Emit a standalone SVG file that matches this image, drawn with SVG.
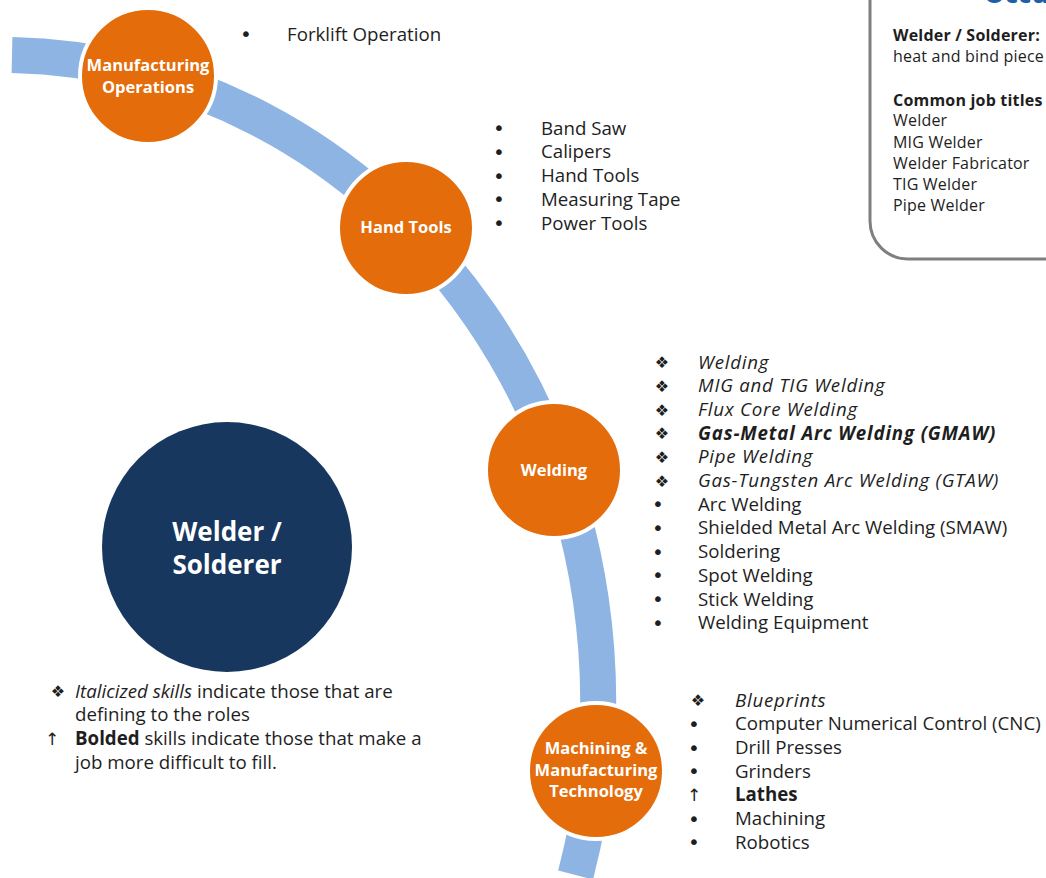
<svg xmlns="http://www.w3.org/2000/svg" width="1046" height="878" viewBox="0 0 1046 878">
  <style>
    .lbl { font-family: "Open Sans", "Noto Sans", sans-serif; font-weight: 700; fill: #ffffff; text-anchor: middle; }
    .item { font-family: "Open Sans", "Noto Sans", sans-serif; font-size: 18.7px; fill: #1e1e1e; }
    .bul { font-family: "DejaVu Sans", sans-serif; font-size: 20px; fill: #1e1e1e; text-anchor: middle; }
    .dia { font-family: "DejaVu Sans", sans-serif; font-size: 16px; fill: #1e1e1e; text-anchor: middle; }
    .arr { font-family: "DejaVu Sans", sans-serif; font-size: 17px; fill: #1e1e1e; text-anchor: middle; }
    .box { font-family: "Open Sans", "Noto Sans", sans-serif; font-size: 16px; letter-spacing: 0.2px; fill: #1e1e1e; }
    .node { fill: #e46c0a; stroke: #ffffff; stroke-width: 4; }
    .it { font-style: italic; letter-spacing: 0.75px; }
    .itk { font-style: italic; }
    .b { font-weight: 700; }
  </style>

  <rect width="1046" height="878" fill="#ffffff"/>

  <!-- sweeping band that links the skill groups -->
  <g id="connectors">
    <path d="M 12 55 A 598 645 0 0 1 575.6 875" fill="none" stroke="#8eb4e3" stroke-width="36"/>
  </g>

  <!-- description panel, top right -->
  <g id="description">
    <rect x="870" y="-40" width="230" height="299" rx="38" fill="#ffffff" stroke="#7f7f7f" stroke-width="3"/>
    <text x="984" y="3" font-family="Open Sans, sans-serif" font-size="26" font-weight="700" fill="#1f5fa8">Occu</text>
    <text class="box b" x="893" y="41">Welder / Solderer:</text>
    <text class="box" x="893" y="62">heat and bind piece</text>
    <text class="box b" x="893" y="106">Common job titles</text>
    <text class="box" x="893" y="126">Welder</text>
    <text class="box" x="893" y="148">MIG Welder</text>
    <text class="box" x="893" y="169">Welder Fabricator</text>
    <text class="box" x="893" y="190">TIG Welder</text>
    <text class="box" x="893" y="211">Pipe Welder</text>
  </g>

  <!-- occupation hub -->
  <g id="node-welder">
    <circle cx="227" cy="547" r="125" fill="#17375e"/>
    <text class="lbl" x="227" y="541" font-size="26">Welder /</text>
    <text class="lbl" x="227" y="574" font-size="26">Solderer</text>
  </g>

  <g id="node-manufacturing-operations">
    <circle class="node" cx="148" cy="76" r="68"/>
    <text class="lbl" x="148" y="71" font-size="16.5">Manufacturing</text>
    <text class="lbl" x="148" y="93" font-size="16.5">Operations</text>
  </g>

  <g id="node-hand-tools">
    <circle class="node" cx="406" cy="228" r="68"/>
    <text class="lbl" x="406" y="233" font-size="16.5">Hand Tools</text>
  </g>

  <g id="node-welding">
    <circle class="node" cx="554" cy="470" r="68"/>
    <text class="lbl" x="554" y="476" font-size="16.5">Welding</text>
  </g>

  <g id="node-machining">
    <circle class="node" cx="596" cy="771" r="68"/>
    <text class="lbl" x="596" y="754" font-size="16.5">Machining &amp;</text>
    <text class="lbl" x="596" y="776" font-size="16.5">Manufacturing</text>
    <text class="lbl" x="596" y="797" font-size="16.5">Technology</text>
  </g>

  <!-- skill lists -->
  <g id="list-manufacturing-operations">
    <text class="bul" x="246" y="41">•</text>
    <text class="item" x="287" y="40.5">Forklift Operation</text>
  </g>

  <g id="list-hand-tools">
    <text class="bul" x="499" y="135">•</text><text class="item" x="541" y="134.5">Band Saw</text>
    <text class="bul" x="499" y="159">•</text><text class="item" x="541" y="158.25">Calipers</text>
    <text class="bul" x="499" y="182.5">•</text><text class="item" x="541" y="182">Hand Tools</text>
    <text class="bul" x="499" y="206">•</text><text class="item" x="541" y="205.75">Measuring Tape</text>
    <text class="bul" x="499" y="230">•</text><text class="item" x="541" y="229.5">Power Tools</text>
  </g>

  <g id="list-welding">
    <text class="dia" x="662" y="368">❖</text><text class="item it" x="698" y="368.5">Welding</text>
    <text class="dia" x="662" y="392">❖</text><text class="item it" x="698" y="392.2">MIG and TIG Welding</text>
    <text class="dia" x="662" y="415.5">❖</text><text class="item it" x="698" y="415.9">Flux Core Welding</text>
    <text class="dia" x="662" y="439">❖</text><text class="item itk b" x="698" y="439.6" style="letter-spacing:0.85px">Gas-Metal Arc Welding (GMAW)</text>
    <text class="dia" x="662" y="463">❖</text><text class="item it" x="698" y="463.3">Pipe Welding</text>
    <text class="dia" x="662" y="486.5">❖</text><text class="item it" x="698" y="487">Gas-Tungsten Arc Welding (GTAW)</text>
    <text class="bul" x="658" y="511">•</text><text class="item" x="698" y="510.7">Arc Welding</text>
    <text class="bul" x="658" y="535">•</text><text class="item" x="698" y="534.4">Shielded Metal Arc Welding (SMAW)</text>
    <text class="bul" x="658" y="558.5">•</text><text class="item" x="698" y="558.1">Soldering</text>
    <text class="bul" x="658" y="582">•</text><text class="item" x="698" y="581.8">Spot Welding</text>
    <text class="bul" x="658" y="606">•</text><text class="item" x="698" y="605.5">Stick Welding</text>
    <text class="bul" x="658" y="630">•</text><text class="item" x="698" y="629.2">Welding Equipment</text>
  </g>

  <g id="list-machining">
    <text class="dia" x="698" y="706">❖</text><text class="item it" x="735" y="706.5">Blueprints</text>
    <text class="bul" x="694" y="731">•</text><text class="item" x="735" y="730.2">Computer Numerical Control (CNC)</text>
    <text class="bul" x="694" y="754.5">•</text><text class="item" x="735" y="753.9">Drill Presses</text>
    <text class="bul" x="694" y="778">•</text><text class="item" x="735" y="777.6">Grinders</text>
    <text class="arr" x="694" y="801">↑</text><text class="item b" x="735" y="801.3">Lathes</text>
    <text class="bul" x="694" y="825.5">•</text><text class="item" x="735" y="825">Machining</text>
    <text class="bul" x="694" y="849">•</text><text class="item" x="735" y="848.7">Robotics</text>
  </g>

  <!-- key -->
  <g id="legend">
    <text class="dia" x="58" y="697">❖</text>
    <text class="item" x="75" y="697.5"><tspan class="itk">Italicized skills</tspan> indicate those that are</text>
    <text class="item" x="75" y="721">defining to the roles</text>
    <text class="arr" x="52" y="745">↑</text>
    <text class="item" x="75" y="745"><tspan class="b">Bolded</tspan> skills indicate those that make a</text>
    <text class="item" x="75" y="768.5">job more difficult to fill.</text>
  </g>
</svg>
